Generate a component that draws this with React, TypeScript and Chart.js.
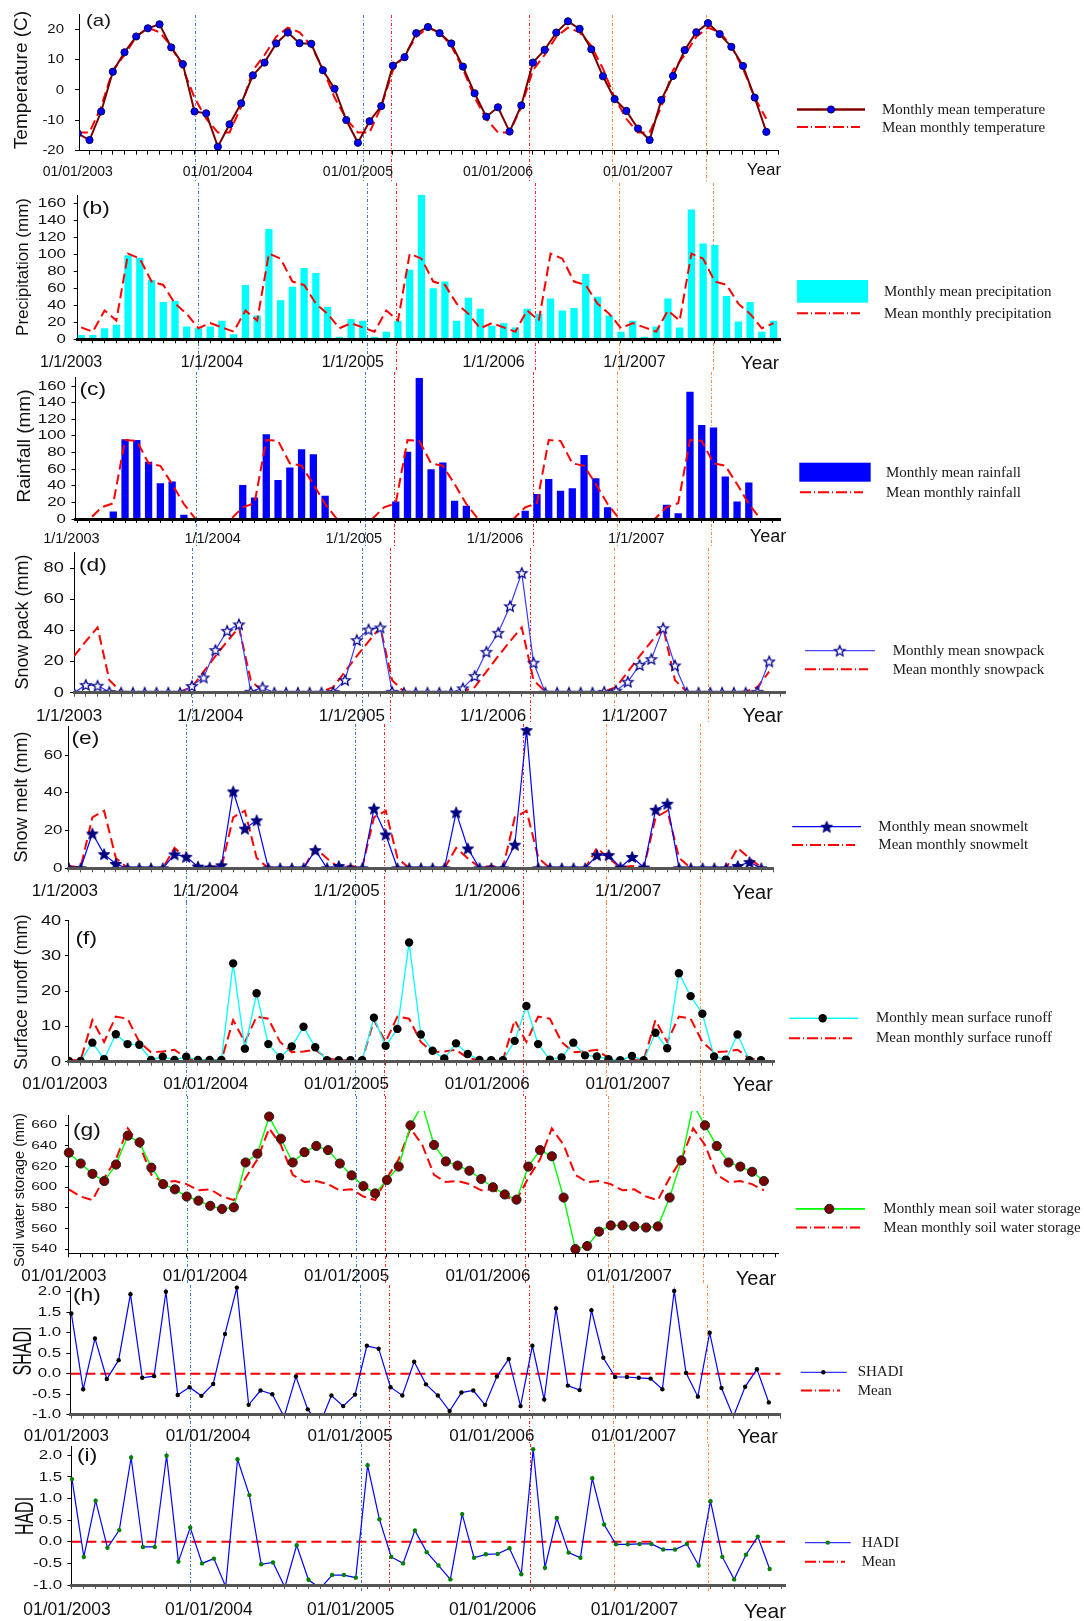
import React, { useEffect, useRef } from 'react';
import { Chart, registerables } from 'chart.js';

Chart.register(...registerables);

// ---------- time axis (month 0 = January 2003) ----------
const monthIndex: number[] = Array.from({ length: 60 }, (_, i) => i);
const yearStartMonths = [0, 12, 24, 36, 48];
const dateLabelsLong = ['01/01/2003', '01/01/2004', '01/01/2005', '01/01/2006', '01/01/2007'];
const dateLabelsShort = ['1/1/2003', '1/1/2004', '1/1/2005', '1/1/2006', '1/1/2007'];

// dated event markers (month position) and their colours
const eventMonths = [10.0, 24.4, 26.85, 38.7, 45.8, 53.8];
const eventColors = ['#3f7fce', '#3f7fce', '#ff2222', '#ff2222', '#ff8a40', '#ff8a40'];

// ---------- (a) temperature ----------
const temperature = [
  -14.3, -16.5, -7.1, 6.0, 12.4, 17.6, 20.3, 21.6, 14.0, 8.5, -7.1, -7.7,
  -18.7, -11.3, -4.4, 4.8, 9.0, 15.3, 18.9, 15.4, 15.2, 6.5, 0.4, -9.9,
  -17.4, -10.3, -5.3, 8.0, 10.8, 18.7, 20.7, 18.7, 15.3, 7.7, -1.1, -8.8,
  -5.7, -13.7, -5.1, 9.0, 13.2, 18.9, 22.6, 20.1, 13.4, 4.5, -3.0, -6.9,
  -12.7, -16.5, -3.3, 4.6, 13.1, 19.0, 22.0, 18.4, 14.2, 7.9, -2.5, -13.8,
];
const meanMonthlyTemperature = [-14, -14, -5.5, 6.5, 11.5, 17.5, 20.5, 19, 14.5, 7, -2.5, -9.5];

// ---------- (b) precipitation ----------
const precipitation = [
  5, 5, 13, 17, 99, 96, 70, 44, 45, 15, 13, 15,
  22, 6, 64, 28, 130, 46, 62, 84, 78, 38, 3, 24,
  22, 3, 9, 22, 82, 170, 60, 68, 22, 49, 36, 16,
  19, 14, 36, 30, 48, 34, 37, 77, 50, 28, 9, 22,
  3, 15, 48, 14, 153, 113, 111, 51, 21, 44, 9, 22,
];
const meanMonthlyPrecipitation = [14, 9, 34, 22, 101, 95, 68, 64, 42, 30, 13, 19];

// ---------- (c) rainfall ----------
const rainfall = [
  0, 0, 0, 9, 96, 95, 69, 43, 45, 5, 0, 0,
  0, 0, 41, 26, 102, 47, 62, 84, 78, 28, 0, 0,
  0, 0, 0, 21, 81, 170, 60, 68, 22, 16, 0, 0,
  0, 0, 10, 30, 48, 34, 37, 77, 49, 14, 0, 0,
  0, 0, 17, 7, 153, 113, 110, 51, 21, 44, 0, 0,
];
const meanMonthlyRainfall = [0, 0, 14, 19, 95, 94, 67, 64, 42, 18, 0, 0];

// ---------- (d) snowpack ----------
const snowpack = [
  0, 5, 4.5, 0.5, 0, 0, 0, 0, 0, 0, 4.3, 9.8,
  27.4, 39.8, 43.9, 0.6, 3.4, 0, 0, 0, 0, 0, 0.5, 8.1,
  33.8, 40.6, 41.9, 0.6, 0, 0, 0, 0, 0, 2.8, 10.7, 26.3,
  38.5, 55.6, 77, 19.3, 0, 0, 0, 0, 0, 0.6, 1.3, 7,
  17.8, 21.6, 41.5, 17.5, 0, 0, 0, 0, 0, 0, 0.6, 20.1,
];
const meanMonthlySnowpack = [23.5, 33, 42, 8, 0.7, 0, 0, 0, 0, 0.7, 3.5, 13.5];

// ---------- (e) snowmelt ----------
const snowmelt = [
  0, 0, 18.4, 7.5, 2.3, 0, 0, 0, 0, 7.4, 6.1, 0.9,
  0.4, 1.6, 40.7, 21, 25.4, 0, 0, 0, 0, 9.6, 0, 1.2,
  0, 0, 31.6, 17.9, 0, 0, 0, 0, 0, 29.6, 10.5, 0,
  0, 0, 12.5, 73.2, 0, 0, 0, 0, 0, 7, 7, 0.4,
  6, 0.4, 31, 34.2, 0, 0, 0, 0, 0, 1.2, 3.3, 0,
];
const meanMonthlySnowmelt = [1.2, 0.5, 27, 30.5, 5.5, 0, 0, 0, 0, 10.8, 5.2, 0.5];

// ---------- (f) surface runoff ----------
const surfaceRunoff = [
  0.2, 0.2, 5.4, 0.7, 7.8, 5.0, 4.8, 0.5, 1.4, 0.5, 1.4, 0.5,
  0.5, 0.5, 27.9, 3.7, 19.4, 5.0, 1.3, 4.3, 9.9, 4.1, 0.4, 0.4,
  0.4, 0.4, 12.5, 4.5, 9.3, 33.8, 7.7, 3.1, 0.9, 5.2, 2.2, 0.5,
  0.4, 0.4, 5.9, 15.8, 5.0, 0.6, 1.2, 5.4, 1.8, 1.5, 0.7, 0.4,
  1.6, 0.4, 8.2, 3.8, 25.1, 18.6, 13.6, 1.5, 0.6, 7.7, 0.4, 0.4,
];
const meanMonthlySurfaceRunoff = [0.5, 0.4, 11.8, 5.6, 12.8, 12.2, 5.6, 2.7, 2.9, 3.4, 1.0, 0.4];

// ---------- (g) soil water storage ----------
const soilWater = [
  633.5, 623, 613, 606, 622, 650, 643.5, 619, 603, 598, 591, 587,
  582, 579, 580.5, 624, 632.5, 668.5, 647, 624, 634, 640, 636, 623,
  611.5, 601, 594, 607, 620, 660, 680, 641, 625, 621, 616, 608,
  600, 593, 588, 620, 636, 630, 590, 540, 543, 557, 563, 563,
  562, 561, 562, 590, 626, 680, 660, 640, 624, 620, 615, 606,
];
const meanMonthlySoilWater = [598, 591, 587.5, 609, 627, 657, 641, 612, 605, 606, 603, 597];

// ---------- (h) SHADI, (i) HADI ----------
const shadi = [
  1.47, -0.38, 0.86, -0.13, 0.33, 1.94, -0.1, -0.06, 2.0, -0.52, -0.33, -0.54,
  -0.25, 0.97, 2.1, -0.76, -0.41, -0.5, -1.05, -0.07, -0.87, -1.25, -0.53, -0.79,
  -0.51, 0.68, 0.61, -0.33, -0.53, 0.29, -0.26, -0.53, -0.91, -0.46, -0.41, -0.76,
  -0.07, 0.36, -0.79, 0.68, -0.63, 1.59, -0.29, -0.4, 1.55, 0.39, -0.08, -0.08,
  -0.1, -0.12, -0.38, 2.02, 0.02, -0.56, 1.0, -0.35, -1.05, -0.32, 0.11, -0.7,
];
const shadiMean = 0;
const hadi = [
  1.45, -0.35, 0.95, -0.14, 0.27, 1.95, -0.12, -0.12, 1.99, -0.46, 0.33, -0.5,
  -0.39, -1.04, 1.91, 1.08, -0.52, -0.48, -1.05, -0.08, -0.88, -1.08, -0.77, -0.77,
  -0.83, 1.77, 0.52, -0.35, -0.5, 0.26, -0.24, -0.55, -0.87, 0.64, -0.37, -0.29,
  -0.28, -0.15, -0.75, 2.14, -0.6, 0.55, -0.25, -0.37, 1.47, 0.4, -0.06, -0.06,
  -0.05, -0.05, -0.18, -0.18, -0.05, -0.55, 0.94, -0.35, -0.87, -0.3, 0.12, -0.63,
];
const hadiMean = 0;

// ---------- helpers ----------
const SANS = '"Liberation Sans", Arial, Helvetica, sans-serif';
const SERIF = '"Liberation Serif", "Times New Roman", Times, serif';
const RED = '#ff0000';

const byMonth = (vals: number[]) => vals.map((y, i) => ({ x: monthIndex[i], y }));
const climatology = (m12: number[]) => byMonth(monthIndex.map((i) => m12[i % 12]));
const level = (v: number, x0: number, x1: number) => [{ x: x0, y: v }, { x: x1, y: v }];

function makeStar(R: number, fill: string, stroke: string, lw: number): HTMLCanvasElement {
  const size = Math.ceil(2 * R + 2 * lw + 2);
  const c = document.createElement('canvas');
  c.width = size;
  c.height = size;
  const g = c.getContext('2d')!;
  g.translate(size / 2, size / 2 + R * 0.1);
  g.beginPath();
  for (let k = 0; k < 10; k++) {
    const rad = k % 2 === 0 ? R : R * 0.45;
    const ang = -Math.PI / 2 + (k * Math.PI) / 5;
    g.lineTo(rad * Math.cos(ang), rad * Math.sin(ang));
  }
  g.closePath();
  g.fillStyle = fill;
  g.fill();
  g.lineWidth = lw;
  g.strokeStyle = stroke;
  g.lineJoin = 'miter';
  g.stroke();
  return c;
}

function drawText(ctx: CanvasRenderingContext2D, str: string, x: number, y: number, size: number,
  align: CanvasTextAlign, sx = 1, color = '#111', family = SANS) {
  ctx.save();
  ctx.font = `${size}px ${family}`;
  ctx.fillStyle = color;
  ctx.textAlign = align;
  ctx.textBaseline = 'middle';
  ctx.translate(x, y);
  ctx.scale(sx, 1);
  ctx.fillText(str, 0, 0);
  ctx.restore();
}

const meanLine = (data: any[]) => ({
  type: 'line', data, borderColor: RED, borderWidth: 2, borderDash: [10, 5],
  pointRadius: 0, fill: false, order: 2,
});

// ---------- panel layout ----------
const panels: any[] = [
  {
    key: 'a', chartType: 'line', letter: '(a)', title: 'Temperature (C)',
    band: [15, 183], canvas: [0, 187],
    area: { l: 79, r: 778, t: 14, b: 150.7 },
    x: [0.1, 60], y: [-20, 25], yTicks: [-20, -10, 0, 10, 20], yDec: 0,
    yLab: { right: 64, size: 13, sx: 1.15 },
    xLab: { texts: dateLabelsLong, size: 14, y: 171.7, dx: 0 },
    year: { x: 764, y: 170, size: 17 },
    letterPos: { x: 86, y: 21.7, size: 17, sx: 1.2 },
    titlePos: { x: 22, y: 80, size: 19, sx: 1 },
    axis: { color: '#000', width: 1 },
    legend: {
      main: { kind: 'line', x0: 797, x1: 865, y: 109.5, color: '#800000', width: 2.5,
        marker: { type: 'dot', x: 831, r: 3.6, fill: '#0000ff', stroke: '#00005a' } },
      mainText: { text: 'Monthly mean temperature', x: 882, y: 110 },
      mean: { x0: 797, x1: 860, y: 127 },
      meanText: { text: 'Mean monthly temperature', x: 882, y: 128 },
    },
    datasets: () => [
      meanLine(climatology(meanMonthlyTemperature)),
      { type: 'line', data: byMonth(temperature), borderColor: '#7a0000', borderWidth: 2,
        pointRadius: 3.6, pointBackgroundColor: '#0000ff', pointBorderColor: '#00005a',
        pointBorderWidth: 1, order: 1 },
    ],
  },
  {
    key: 'b', chartType: 'bar', letter: '(b)', title: 'Precipitation (mm)',
    band: [183, 372], canvas: [177, 378],
    area: { l: 77.6, r: 780.6, t: 195, b: 339.3 },
    x: [-0.3, 59.6], y: [0, 170], yTicks: [0, 20, 40, 60, 80, 100, 120, 140, 160], yDec: 0,
    yLab: { right: 66, size: 13, sx: 1.3 },
    xLab: { texts: dateLabelsShort, size: 16, y: 362.7, dx: -10 },
    year: { x: 760, y: 364, size: 19 },
    letterPos: { x: 82, y: 209, size: 19, sx: 1.2 },
    titlePos: { x: 23, y: 267, size: 17, sx: 1 },
    axis: { color: '#000', width: 3 },
    legend: {
      main: { kind: 'box', x0: 797, x1: 868, y0: 280, y1: 302.7, color: '#00ffff' },
      mainText: { text: 'Monthly mean precipitation', x: 884, y: 292 },
      mean: { x0: 797, x1: 860, y: 313.3 },
      meanText: { text: 'Mean monthly precipitation', x: 884, y: 314 },
    },
    datasets: () => [
      { type: 'bar', data: byMonth(precipitation), backgroundColor: '#00ffff', borderWidth: 0,
        barPercentage: 0.62, categoryPercentage: 1, order: 2 },
      { ...meanLine(climatology(meanMonthlyPrecipitation)), order: 1 },
    ],
  },
  {
    key: 'c', chartType: 'bar', letter: '(c)', title: 'Rainfall (mm)',
    band: [372, 548], canvas: [366, 554],
    area: { l: 75.5, r: 780.6, t: 377.7, b: 519 },
    x: [-0.21, 59.7], y: [0, 170], yTicks: [0, 20, 40, 60, 80, 100, 120, 140, 160], yDec: 0,
    yLab: { right: 66, size: 13, sx: 1.3 },
    xLab: { texts: dateLabelsShort, size: 14.5, y: 539.3, dx: -6.6 },
    year: { x: 768, y: 537, size: 18 },
    letterPos: { x: 79.5, y: 390, size: 19, sx: 1.2 },
    titlePos: { x: 25, y: 446, size: 19, sx: 1 },
    axis: { color: '#000', width: 3 },
    legend: {
      main: { kind: 'box', x0: 799.3, x1: 870.7, y0: 462.7, y1: 481.7, color: '#0000ff' },
      mainText: { text: 'Monthly mean rainfall', x: 886, y: 473.3 },
      mean: { x0: 800, x1: 863, y: 492.3 },
      meanText: { text: 'Mean monthly rainfall', x: 886, y: 493.3 },
    },
    datasets: () => [
      { type: 'bar', data: byMonth(rainfall), backgroundColor: '#0000ff', borderWidth: 0,
        barPercentage: 0.62, categoryPercentage: 1, order: 2 },
      { ...meanLine(climatology(meanMonthlyRainfall)), order: 1 },
    ],
  },
  {
    key: 'd', chartType: 'line', letter: '(d)', title: 'Snow pack (mm)',
    band: [548, 724], canvas: [542, 730],
    area: { l: 74, r: 785.7, t: 552.7, b: 692.7 },
    x: [0, 60.4], y: [0, 90], yTicks: [0, 20, 40, 60, 80], yDec: 0,
    yLab: { right: 63.8, size: 14, sx: 1.3 },
    xLab: { texts: dateLabelsShort, size: 17, y: 716, dx: -5 },
    year: { x: 762.7, y: 716, size: 20 },
    letterPos: { x: 79, y: 566, size: 19, sx: 1.2 },
    titlePos: { x: 23, y: 622, size: 18, sx: 1 },
    axis: { color: '#555', width: 3 },
    legend: {
      main: { kind: 'line', x0: 805, x1: 875, y: 650.7, color: '#4a4aff', width: 1.2,
        marker: { type: 'openStar', x: 839.7 } },
      mainText: { text: 'Monthly mean snowpack', x: 892.7, y: 651.3 },
      mean: { x0: 805, x1: 868, y: 669.3 },
      meanText: { text: 'Mean monthly snowpack', x: 892.7, y: 670 },
    },
    datasets: (st: any) => [
      meanLine(climatology(meanMonthlySnowpack)),
      { type: 'line', data: byMonth(snowpack), borderColor: '#3b3bff', borderWidth: 1.2,
        pointStyle: st.openStar, pointRadius: 5, order: 1 },
    ],
  },
  {
    key: 'e', chartType: 'line', letter: '(e)', title: 'Snow melt (mm)',
    band: [724, 902], canvas: [718, 908],
    area: { l: 68.9, r: 773, t: 726.7, b: 868.3 },
    x: [0, 60], y: [0, 75], yTicks: [0, 20, 40, 60], yDec: 0,
    yLab: { right: 62.5, size: 13, sx: 1.3 },
    xLab: { texts: dateLabelsShort, size: 17, y: 891.7, dx: -4 },
    year: { x: 752.6, y: 893, size: 20 },
    letterPos: { x: 71.4, y: 738.3, size: 19, sx: 1.2 },
    titlePos: { x: 22, y: 797, size: 18, sx: 1 },
    axis: { color: '#555', width: 3 },
    legend: {
      main: { kind: 'line', x0: 792.3, x1: 861, y: 826.7, color: '#0000ff', width: 1.2,
        marker: { type: 'star', x: 826.7 } },
      mainText: { text: 'Monthly mean snowmelt', x: 878.3, y: 826.7 },
      mean: { x0: 792, x1: 855, y: 845 },
      meanText: { text: 'Mean monthly snowmelt', x: 878.3, y: 845 },
    },
    datasets: (st: any) => [
      meanLine(climatology(meanMonthlySnowmelt)),
      { type: 'line', data: byMonth(snowmelt), borderColor: '#0000ff', borderWidth: 1.2,
        pointStyle: st.star, pointRadius: 5, order: 1 },
    ],
  },
  {
    key: 'f', chartType: 'line', letter: '(f)', title: 'Surface runoff (mm)',
    band: [902, 1096], canvas: [896, 1102],
    area: { l: 68.9, r: 774.5, t: 920.7, b: 1061.7 },
    x: [0, 60.15], y: [0, 40], yTicks: [0, 10, 20, 30, 40], yDec: 0,
    yLab: { right: 61.2, size: 14, sx: 1.3 },
    xLab: { texts: dateLabelsLong, size: 17, y: 1084.3, dx: -4 },
    year: { x: 752.6, y: 1085, size: 20 },
    letterPos: { x: 75.5, y: 938.3, size: 19, sx: 1.2 },
    titlePos: { x: 22, y: 992, size: 17.5, sx: 1 },
    axis: { color: '#555', width: 3 },
    legend: {
      main: { kind: 'line', x0: 789.3, x1: 858.3, y: 1018.3, color: '#00ffff', width: 1.4,
        marker: { type: 'dot', x: 822.7, r: 4.2, fill: '#000', stroke: '' } },
      mainText: { text: 'Monthly mean surface runoff', x: 876, y: 1018.3 },
      mean: { x0: 789, x1: 852, y: 1038.2 },
      meanText: { text: 'Mean monthly surface runoff', x: 876, y: 1038.5 },
    },
    datasets: () => [
      meanLine(climatology(meanMonthlySurfaceRunoff)),
      { type: 'line', data: byMonth(surfaceRunoff), borderColor: '#00ffff', borderWidth: 1.3,
        pointRadius: 4.2, pointBackgroundColor: '#000', pointBorderColor: '#000', pointBorderWidth: 0,
        order: 1 },
    ],
  },
  {
    key: 'g', chartType: 'line', letter: '(g)', title: 'Soil water storage (mm)',
    band: [1096, 1285], canvas: [1090, 1291],
    area: { l: 68.9, r: 778, t: 1115, b: 1253.3 },
    x: [0, 60.2], y: [536, 670], yTicks: [540, 560, 580, 600, 620, 640, 660], yDec: 0,
    yLab: { right: 57, size: 11, sx: 1.4 },
    xLab: { texts: dateLabelsLong, size: 17, y: 1276.7, dx: -5 },
    year: { x: 756, y: 1279, size: 20 },
    letterPos: { x: 73, y: 1130.7, size: 19, sx: 1.2 },
    titlePos: { x: 20, y: 1190, size: 14.5, sx: 1 },
    axis: { color: '#000', width: 1 },
    legend: {
      main: { kind: 'line', x0: 795.7, x1: 865, y: 1208.9, color: '#00ff00', width: 1.6,
        marker: { type: 'dot', x: 829.3, r: 4.6, fill: '#7a0000', stroke: '#222' } },
      mainText: { text: 'Monthly mean soil water storage', x: 883.3, y: 1209 },
      mean: { x0: 796, x1: 860, y: 1227.6 },
      meanText: { text: 'Mean monthly soil water storage', x: 883.3, y: 1228 },
    },
    datasets: () => [
      meanLine(climatology(meanMonthlySoilWater)),
      { type: 'line', data: byMonth(soilWater), borderColor: '#00ff00', borderWidth: 1.4,
        pointRadius: 4.6, pointBackgroundColor: '#7a0000', pointBorderColor: '#222',
        pointBorderWidth: 1, order: 1, clip: { left: 8, right: 8, top: 4, bottom: 6 } },
    ],
  },
  {
    key: 'h', chartType: 'line', letter: '(h)', title: 'SHADI',
    band: [1285, 1444], canvas: [1279, 1450],
    area: { l: 70.4, r: 780.6, t: 1287.6, b: 1414.7 },
    x: [-0.08, 60], y: [-1, 2.1], yTicks: [-1, -0.5, 0, 0.5, 1, 1.5, 2], yDec: 1,
    yLab: { right: 61.2, size: 13, sx: 1.3 },
    xLab: { texts: dateLabelsLong, size: 17, y: 1436.7, dx: -5 },
    year: { x: 757.7, y: 1437, size: 20 },
    letterPos: { x: 73, y: 1296, size: 19, sx: 1.2 },
    titlePos: { x: 24, y: 1351, size: 16, sx: 1.6 },
    axis: { color: '#555', width: 3 },
    legend: {
      main: { kind: 'line', x0: 800.7, x1: 846.7, y: 1372.3, color: '#3333ff', width: 1.2,
        marker: { type: 'dot', x: 823.3, r: 2.2, fill: '#000', stroke: '' } },
      mainText: { text: 'SHADI', x: 857.7, y: 1372.5 },
      mean: { x0: 801, x1: 840, y: 1390.6 },
      meanText: { text: 'Mean', x: 857.7, y: 1391 },
    },
    datasets: () => [
      meanLine(level(shadiMean, -0.08, 60)),
      { type: 'line', data: byMonth(shadi), borderColor: '#0000ff', borderWidth: 1.2,
        pointRadius: 2.2, pointBackgroundColor: '#000', pointBorderColor: '#000', pointBorderWidth: 0,
        order: 1, clip: { left: 8, right: 8, top: 4, bottom: 0 } },
    ],
  },
  {
    key: 'i', chartType: 'line', letter: '(i)', title: 'HADI',
    band: [1444, 1592], canvas: [1438, 1621],
    area: { l: 71.4, r: 785, t: 1446.7, b: 1585 },
    x: [-0.05, 60.3], y: [-1, 2.2], yTicks: [-1, -0.5, 0, 0.5, 1, 1.5, 2], yDec: 1,
    yLab: { right: 62.2, size: 13, sx: 1.3 },
    xLab: { texts: dateLabelsLong, size: 17.5, y: 1610, dx: -5 },
    year: { x: 765, y: 1612, size: 21 },
    letterPos: { x: 77, y: 1456, size: 19, sx: 1.2 },
    titlePos: { x: 26, y: 1516, size: 16, sx: 1.6 },
    axis: { color: '#555', width: 3 },
    legend: {
      main: { kind: 'line', x0: 805, x1: 850.7, y: 1542.6, color: '#3333ff', width: 1.2,
        marker: { type: 'dot', x: 827.7, r: 2.2, fill: '#008000', stroke: '' } },
      mainText: { text: 'HADI', x: 861.7, y: 1542.8 },
      mean: { x0: 805, x1: 845, y: 1561.7 },
      meanText: { text: 'Mean', x: 861.7, y: 1562 },
    },
    datasets: () => [
      meanLine(level(hadiMean, -0.05, 60.3)),
      { type: 'line', data: byMonth(hadi), borderColor: '#0000ff', borderWidth: 1.2,
        pointRadius: 2.2, pointBackgroundColor: '#008000', pointBorderColor: '#008000', pointBorderWidth: 0,
        order: 1, clip: { left: 8, right: 8, top: 4, bottom: 0 } },
    ],
  },
];

function drawLegend(ctx: CanvasRenderingContext2D, lg: any, off: number, stars: any) {
  const m = lg.main;
  ctx.save();
  if (m.kind === 'box') {
    ctx.fillStyle = m.color;
    ctx.fillRect(m.x0, m.y0 - off, m.x1 - m.x0, m.y1 - m.y0);
  } else {
    ctx.strokeStyle = m.color;
    ctx.lineWidth = m.width;
    ctx.setLineDash([]);
    ctx.beginPath();
    ctx.moveTo(m.x0, m.y - off);
    ctx.lineTo(m.x1, m.y - off);
    ctx.stroke();
    const mk = m.marker;
    if (mk.type === 'dot') {
      ctx.beginPath();
      ctx.arc(mk.x, m.y - off, mk.r, 0, Math.PI * 2);
      ctx.fillStyle = mk.fill;
      ctx.fill();
      if (mk.stroke) {
        ctx.lineWidth = 1;
        ctx.strokeStyle = mk.stroke;
        ctx.stroke();
      }
    } else {
      const img = stars[mk.type];
      ctx.drawImage(img, mk.x - img.width / 2, m.y - off - img.height / 2);
    }
  }
  ctx.strokeStyle = RED;
  ctx.lineWidth = 2;
  ctx.setLineDash([11, 3, 1, 3]);
  ctx.beginPath();
  ctx.moveTo(lg.mean.x0, lg.mean.y - off);
  ctx.lineTo(lg.mean.x1, lg.mean.y - off);
  ctx.stroke();
  ctx.restore();
  drawText(ctx, lg.mainText.text, lg.mainText.x, lg.mainText.y - off, 15, 'left', 1, '#1a1a1a', SERIF);
  drawText(ctx, lg.meanText.text, lg.meanText.x, lg.meanText.y - off, 15, 'left', 1, '#1a1a1a', SERIF);
}

function decorations(p: any, stars: any) {
  const off = p.canvas[0];
  return {
    id: 'panelDecorations',
    beforeDatasetsDraw(chart: any) {
      const ctx = chart.ctx as CanvasRenderingContext2D;
      const xs = chart.scales.x;
      ctx.save();
      ctx.lineWidth = 1;
      ctx.setLineDash([3, 2, 1, 2]);
      eventMonths.forEach((m, k) => {
        const px = Math.round(xs.getPixelForValue(m)) + 0.5;
        ctx.strokeStyle = eventColors[k];
        ctx.beginPath();
        ctx.moveTo(px, p.band[0] - off);
        ctx.lineTo(px, p.band[1] - off);
        ctx.stroke();
      });
      ctx.restore();
    },
    afterDraw(chart: any) {
      const ctx = chart.ctx as CanvasRenderingContext2D;
      const xs = chart.scales.x;
      const ys = chart.scales.y;
      // y tick labels
      p.yTicks.forEach((v: number) => {
        drawText(ctx, v.toFixed(p.yDec), p.yLab.right, ys.getPixelForValue(v), p.yLab.size, 'right', p.yLab.sx);
      });
      // date labels
      yearStartMonths.forEach((m, k) => {
        drawText(ctx, p.xLab.texts[k], xs.getPixelForValue(m) + p.xLab.dx, p.xLab.y - off, p.xLab.size, 'center');
      });
      drawText(ctx, 'Year', p.year.x, p.year.y - off, p.year.size, 'center');
      drawText(ctx, p.letter, p.letterPos.x, p.letterPos.y - off, p.letterPos.size, 'left', p.letterPos.sx);
      // rotated axis title
      ctx.save();
      ctx.translate(p.titlePos.x, p.titlePos.y - off);
      ctx.rotate(-Math.PI / 2);
      ctx.scale(1, p.titlePos.sx);
      ctx.font = `${p.titlePos.size}px ${SANS}`;
      ctx.fillStyle = '#111';
      ctx.textAlign = 'center';
      ctx.textBaseline = 'middle';
      ctx.fillText(p.title, 0, 0);
      ctx.restore();
      drawLegend(ctx, p.legend, off, stars);
    },
  };
}

function buildConfig(p: any, stars: any): any {
  const [cTop, cBottom] = p.canvas;
  const xTicks = monthIndex.concat([60]).filter((v) => v >= p.x[0] - 1e-9 && v <= p.x[1] + 1e-9);
  return {
    type: p.chartType,
    data: { datasets: p.datasets(stars) },
    options: {
      responsive: false,
      animation: false,
      devicePixelRatio: 1,
      events: [],
      layout: { padding: { top: p.area.t - cTop, right: 1084 - p.area.r, bottom: 0, left: 0 } },
      plugins: { legend: { display: false }, tooltip: { enabled: false } },
      elements: { line: { tension: 0 } },
      scales: {
        x: {
          type: 'linear', min: p.x[0], max: p.x[1], offset: false,
          afterFit: (sc: any) => { sc.height = cBottom - p.area.b; },
          afterBuildTicks: (sc: any) => { sc.ticks = xTicks.map((value) => ({ value })); },
          ticks: { display: false },
          grid: { display: true, drawOnChartArea: false, drawTicks: true, tickLength: 4,
            color: p.axis.color, lineWidth: 1, offset: false },
          border: { display: true, color: p.axis.color, width: p.axis.width, z: 1 },
        },
        y: {
          type: 'linear', min: p.y[0], max: p.y[1],
          afterFit: (sc: any) => { sc.width = p.area.l; },
          afterBuildTicks: (sc: any) => { sc.ticks = p.yTicks.map((value: number) => ({ value })); },
          ticks: { display: false },
          grid: { display: true, drawOnChartArea: false, drawTicks: true, tickLength: 4,
            color: '#000', lineWidth: 1 },
          border: { display: true, color: '#000', width: 1 },
        },
      },
    },
    plugins: [decorations(p, stars)],
  };
}

function Panel({ p }: { p: any }) {
  const ref = useRef<HTMLCanvasElement>(null);
  const h = p.canvas[1] - p.canvas[0];
  useEffect(() => {
    const stars = {
      openStar: makeStar(5.5, '#ffffff', '#00008b', 1.3),
      star: makeStar(6, '#000080', '#000080', 1),
    };
    const chart = new Chart(ref.current as HTMLCanvasElement, buildConfig(p, stars));
    return () => chart.destroy();
  }, [p]);
  return (
    <canvas
      ref={ref}
      width={1084}
      height={h}
      style={{ position: 'absolute', left: 0, top: p.canvas[0], width: 1084, height: h }}
    />
  );
}

export default function App() {
  return (
    <div style={{ position: 'relative', width: 1084, height: 1621, background: '#fff', overflow: 'hidden' }}>
      <style>{'body{margin:0;background:#fff;}'}</style>
      {panels.map((p) => (
        <Panel key={p.key} p={p} />
      ))}
    </div>
  );
}
